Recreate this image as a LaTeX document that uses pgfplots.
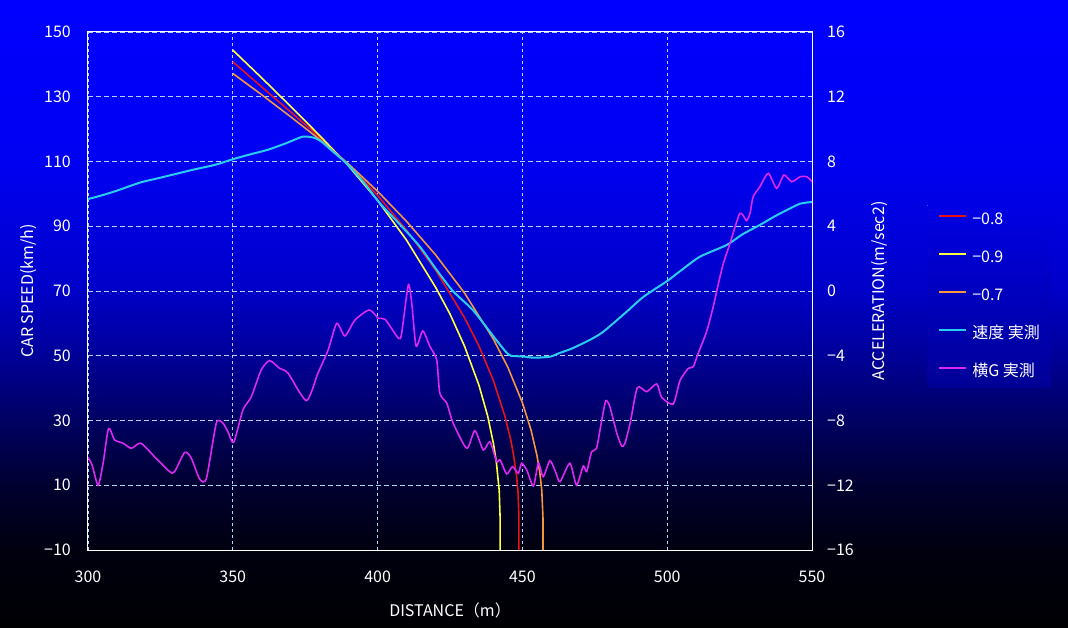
\documentclass[border=0pt]{standalone}
\usepackage{fontspec}
\setmainfont{Noto Sans CJK JP}
\usepackage{pgfplots}
\pgfplotsset{compat=1.18}

% background bands, top to bottom
\definecolor{bg0}{RGB}{0,0,255}
\definecolor{bg1}{RGB}{0,0,242}
\definecolor{bg2}{RGB}{0,0,200}
\definecolor{bg3}{RGB}{0,0,152}
\definecolor{bg4}{RGB}{0,0,98}
\definecolor{bg5}{RGB}{0,0,48}
\definecolor{bg6}{RGB}{0,0,15}
\definecolor{bg7}{RGB}{0,0,3}
\definecolor{lgtop}{RGB}{0,0,228}
\definecolor{lgbot}{RGB}{0,0,150}
\definecolor{gridc}{RGB}{175,215,255}

\definecolor{cred}{RGB}{230,20,20}
\definecolor{cyel}{RGB}{255,255,60}
\definecolor{corg}{RGB}{245,150,60}
\definecolor{ccyan}{RGB}{40,205,240}
\definecolor{cmag}{RGB}{220,40,240}

\newcommand{\chfont}{\fontsize{16bp}{18bp}\selectfont}

\begin{document}
\begin{tikzpicture}
\useasboundingbox (-88bp,-78bp) rectangle (980bp,550bp);
\shade[top color=bg0,bottom color=bg1] (-88bp,389.5bp) rectangle (980bp,550bp);
\shade[top color=bg1,bottom color=bg2] (-88bp,259.5bp) rectangle (980bp,390bp);
\shade[top color=bg2,bottom color=bg3] (-88bp,194.5bp) rectangle (980bp,260bp);
\shade[top color=bg3,bottom color=bg4] (-88bp,129.5bp) rectangle (980bp,195bp);
\shade[top color=bg4,bottom color=bg5] (-88bp,64.5bp) rectangle (980bp,130bp);
\shade[top color=bg5,bottom color=bg6] (-88bp,-0.5bp) rectangle (980bp,65bp);
\shade[top color=bg6,bottom color=bg7] (-88bp,-78bp) rectangle (980bp,0bp);

\pgfplotsset{
  speedchart/.style={
    scale only axis, width=724bp, height=518bp,
    xmin=300, xmax=550,
    major tick length=0pt,
    axis line style={white, line width=1bp},
    tick label style={font=\chfont, text=white, inner sep=0pt},
  }
}

\begin{axis}[
  speedchart,
  ymin=-10, ymax=150,
  xtick={300,350,400,450,500,550},
  xticklabels={300,350,400,450,500,550},
  ytick={-10,10,30,50,70,90,110,130,150},
  yticklabels={−10,10,30,50,70,90,110,130,150},
  xmajorgrids, ymajorgrids,
  x grid style={color=gridc, line width=0.8bp, dash pattern=on 3bp off 3bp},
  y grid style={color=gridc, line width=0.8bp, dash pattern=on 5bp off 3bp},
  yticklabel style={xshift=-17bp},
  xticklabel style={yshift=-21bp},
  xlabel={DISTANCE（m）},
  ylabel={CAR SPEED(km/h)},
  every axis x label/.style={at={(axis description cs:0.5,-0.1158)}, anchor=center, font=\chfont, text=white},
  every axis y label/.style={at={(axis description cs:-0.0815,0.5)}, rotate=90, anchor=center, font=\chfont, text=white},
]
% -0.8
\addplot[cred, line width=1.6bp] coordinates {
  (350,140.8)(360,133.0)(370,125.3)(380,117.5)(390,109.0)(400,99.5)(410,88.8)
  (420,76.5)(430,61.8)(435,53.0)(440,42.3)(444,31.2)(446,23.9)(447,19.1)
  (448,12.7)(448.5,7.8)(448.8,0)(448.8,-10)
};
% -0.9
\addplot[cyel, line width=1.6bp] coordinates {
  (350,144.4)(360,135.8)(370,127.0)(380,118.0)(390,108.6)(400,98.0)(410,85.7)
  (420,71.2)(425,62.9)(430,53.0)(435,40.9)(438,31.4)(440,22.9)(441,17.2)
  (442,8.3)(442.3,0)(442.3,-10)
};
% -0.7
\addplot[corg, line width=1.6bp] coordinates {
  (350,137.2)(360,130.6)(370,123.8)(380,116.8)(390,109.2)(400,100.8)(410,91.5)
  (420,81.2)(430,69.4)(440,55.1)(445,46.4)(450,35.5)(453,27.0)(455,19.3)
  (456,14.0)(456.7,8.4)(457.1,0)(457.1,-10)
};
% measured speed
\addplot[ccyan, line width=2bp, smooth, tension=0.4] coordinates {
  (300,98.4)(305,99.6)(310,101.0)(318,103.5)(325,105.0)(336,107.4)(344,109.0)
  (350,110.7)(356,112.2)(362,113.6)(368,115.5)(371,116.6)(374.3,117.7)
  (377.8,117.4)(380.7,116.1)(384,113.5)(389.3,109.4)(395,103.8)(400.8,97.1)
  (408.3,90.0)(414.6,83.7)(420.4,76.5)(426,70.0)(433,64.0)(440,56.0)
  (444,51.5)(446,50.0)(450,49.8)(454,49.4)(459.5,49.7)(463,50.9)(467,52.2)
  (473.3,54.9)(477.9,57.4)(486,63.6)(491.8,68.2)(500,73.1)(505,76.5)
  (511.3,80.6)(520.5,84.2)(526,87.5)(532,90.4)(537,93.0)(542.4,95.5)
  (546,97.0)(550,97.5)
};
\end{axis}

\begin{axis}[
  speedchart,
  ymin=-16, ymax=16,
  axis x line=none,
  axis y line*=right,
  ytick={-16,-12,-8,-4,0,4,8,12,16},
  yticklabels={−16,−12,−8,−4,0,4,8,12,16},
  yticklabel style={xshift=15bp},
  ylabel={ACCELERATION(m/sec2)},
  every axis y label/.style={at={(axis description cs:1.0939,0.5)}, rotate=90, anchor=center, font=\chfont, text=white},
  legend cell align=left,
  legend image code/.code={\draw[#1] (0bp,4bp) -- (27bp,4bp);},
  legend style={
    at={(1.1589,0.666)}, anchor=north west,
    draw=none, top color=lgtop, bottom color=lgbot,
    inner xsep=11bp, inner ysep=7bp,
    row sep=22bp, column sep=5bp,
    font=\chfont, text=white,
    nodes={inner sep=0pt, text height=12bp, text depth=4bp},
  },
]
\addlegendimage{cred, line width=1.6bp}
\addlegendentry{−0.8}
\addlegendimage{cyel, line width=1.6bp}
\addlegendentry{−0.9}
\addlegendimage{corg, line width=1.6bp}
\addlegendentry{−0.7}
\addlegendimage{ccyan, line width=2bp}
\addlegendentry{速度 実測}
% measured lateral G
\addplot[cmag, line width=1.6bp, smooth, tension=0.4] coordinates {
  (300,-10.27)(301.4,-10.75)(303.5,-12.0)(305.2,-10.65)(307.1,-8.5)(309.2,-9.2)
  (312.1,-9.4)(315,-9.72)(318.2,-9.4)(323,-10.24)(328.2,-11.16)(329.9,-11.16)
  (333.4,-9.97)(335.7,-10.34)(338.6,-11.63)(340.9,-11.57)(344.3,-8.17)
  (346.6,-8.17)(348.3,-8.69)(350.3,-9.35)(353.5,-7.35)(356.4,-6.53)
  (359.8,-4.88)(362.7,-4.3)(366.2,-4.78)(369.1,-5.08)(375.4,-6.77)
  (379.4,-5.08)(382.9,-3.65)(385.9,-2.0)(388.7,-2.78)(392.2,-1.79)
  (397.1,-1.17)(400.3,-1.69)(402.6,-1.75)(407.2,-2.92)(408.3,-2.61)
  (410.6,0.37)(411.8,-0.77)(413.3,-3.4)(415.6,-2.47)(418.1,-3.44)
  (420.4,-4.26)(421.5,-6.32)(423.9,-6.94)(426.1,-8.17)(430.8,-9.72)
  (433.6,-8.63)(436.5,-9.82)(438.8,-9.31)(441.1,-10.54)(442.3,-10.44)
  (444.6,-11.3)(446.6,-10.85)(448.6,-11.26)(449.7,-10.64)(451.5,-11.06)
  (453.8,-12.05)(455.5,-10.64)(457.2,-11.47)(459.5,-10.48)(461.5,-11.2)
  (463,-11.78)(466.4,-10.64)(468.7,-12.0)(471,-10.81)(472.2,-11.16)
  (473.9,-9.93)(475.6,-9.72)(477.4,-7.97)(478.8,-6.78)(480.2,-7.15)
  (482.6,-8.79)(484.3,-9.58)(485.4,-9.41)(487.2,-8.17)(489.7,-5.97)
  (492.9,-6.22)(496.4,-5.74)(498.1,-6.57)(502.1,-6.98)(504.4,-5.54)
  (507.3,-4.78)(509,-4.68)(510.7,-3.85)(513.6,-2.51)(515.9,-0.97)
  (517.7,0.47)(519.4,1.71)(521.7,2.95)(524,4.28)(525.1,4.8)(526.1,4.7)
  (527.4,4.35)(528.6,4.8)(529.7,5.83)(532,6.44)(534.9,7.27)(537.8,6.34)
  (540.3,7.17)(543,6.75)(545.9,7.06)(548.2,7.06)(550,6.75)
};
\addlegendentry{横G 実測}
\end{axis}
\end{tikzpicture}
\end{document}
